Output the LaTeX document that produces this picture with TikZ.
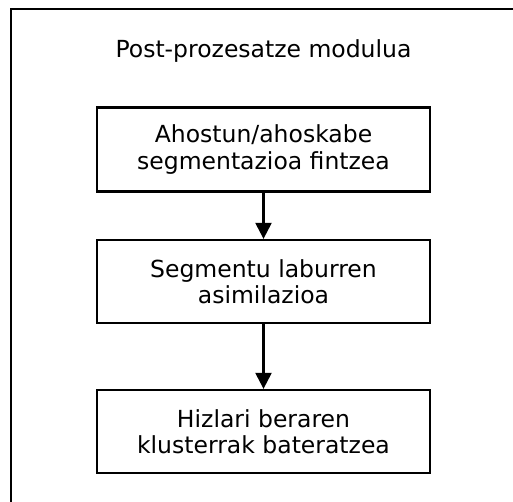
\documentclass[tikz,border=0pt]{standalone}
\usepackage{fontspec}
\setmainfont{DejaVu Sans}
\usetikzlibrary{arrows.meta}

\tikzset{
  stepbox/.style={draw,line width=2.3pt,minimum width=333pt,align=center,
    inner sep=0pt,font=\fontsize{23.5}{26.5}\selectfont},
}

\begin{document}
\begin{tikzpicture}[x=1pt,y=-1pt]
    \clip (0,0) rectangle (513,501);
    \draw[line width=2.5pt] (11,9) rectangle (530,520);

    \node(title) at (263.5,51) {\fontsize{23.5}{26}\selectfont Post-prozesatze modulua};

    \node[stepbox,minimum height=84pt](fine) at (263.5,149.5)
      {Ahostun/ahoskabe\\segmentazioa fintzea};
    \node[stepbox,minimum height=83pt](assim) at (263.5,281.5)
      {Segmentu laburren\\asimilazioa};
    \node[stepbox,minimum height=83pt](merge) at (263.5,431.5)
      {Hizlari beraren\\klusterrak bateratzea};

    \draw[line width=2.3pt,-{Triangle[width=16pt,length=16pt]}] (fine)--(assim);
    \draw[line width=2.3pt,-{Triangle[width=16pt,length=16pt]}] (assim)--(merge);

  \end{tikzpicture}
\end{document}
